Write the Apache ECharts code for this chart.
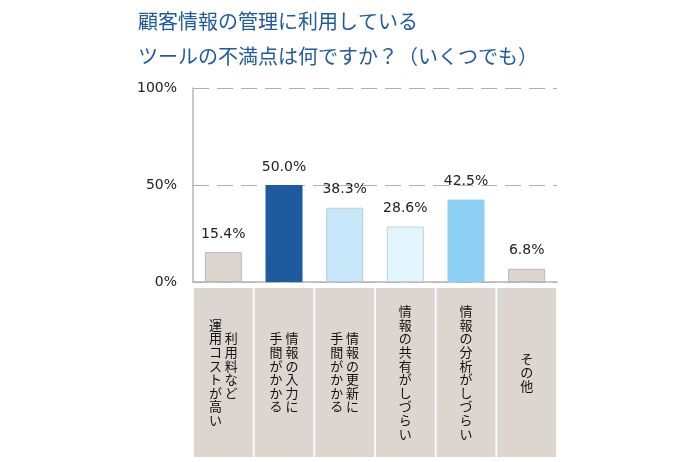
<!DOCTYPE html>
<html>
<head>
<meta charset="utf-8">
<script src="https://cdn.jsdelivr.net/npm/echarts@6/dist/echarts.min.js"></script>
<style>
  html, body { margin: 0; padding: 0; background: #fff; }
  #chart { width: 700px; height: 462px; }
</style>
</head>
<body>
<div id="chart"></div>
<script>
// データ
var titleLines = ['顧客情報の管理に利用している', 'ツールの不満点は何ですか？（いくつでも）'];
// 縦書き：最初の列が右側
var categories = [
    ['利用料など', '運用コストが高い'],
    ['情報の入力に', '手間がかかる'],
    ['情報の更新に', '手間がかかる'],
    ['情報の共有がしづらい'],
    ['情報の分析がしづらい'],
    ['その他']
];
var values = [15.4, 50.0, 38.3, 28.6, 42.5, 6.8];
var yTicks = [0, 50, 100];

var barColors = ['#ddd6d0', '#1f5a9e', '#c7e8fa', '#e2f4fc', '#8dd0f3', '#ddd6d0'];
var barBorders = ['#bdb8b4', '#1f5a9e', '#b9cbd5', '#c3d2d9', '#8dd0f3', '#bdb8b4'];

var LH = 13.6;       // 縦書きの1文字の高さ
var BOX_H = 169;     // 下のラベル枠の高さ

// 縦書きの行を作る（右の列から読む）
function verticalText(cols) {
    var n = 0;
    cols.forEach(function (c) { n = Math.max(n, c.length); });
    var offs = cols.map(function (c) { return Math.floor((n - c.length) / 2); });
    var rows = [];
    for (var i = 0; i < n; i++) {
        var parts = [];
        for (var k = cols.length - 1; k >= 0; k--) {
            var ch = cols[k].charAt(i - offs[k]);
            parts.push(ch || '　');
        }
        rows.push(parts.join(' '));
    }
    return rows;
}

var catData = categories.map(function (cols, i) {
    var rows = verticalText(cols);
    var pad = (BOX_H - rows.length * LH) / 2;
    return {
        value: 'c' + i,
        textStyle: { padding: [pad, 0, pad, 0] }
    };
});
var catText = {};
categories.forEach(function (cols, i) { catText['c' + i] = verticalText(cols).join('\n'); });

var barData = values.map(function (v, i) {
    return {
        value: v,
        itemStyle: { color: barColors[i], borderColor: barBorders[i], borderWidth: 1 }
    };
});

var chart = echarts.init(document.getElementById('chart'));
var option = {
    animation: false,
    title: {
        text: titleLines.join('\n'),
        left: 138,
        top: 4,
        padding: 0,
        textStyle: {
            color: '#1f5a9e',
            fontSize: 20,
            fontWeight: 'normal',
            lineHeight: 35,
            fontFamily: 'Noto Sans CJK JP'
        }
    },
    grid: { left: 193, right: 143, top: 88, bottom: 180, containLabel: false },
    xAxis: {
        type: 'category',
        data: catData,
        axisLine: { show: true, lineStyle: { color: '#b5b5b5', width: 1.5 } },
        axisTick: { show: false },
        axisLabel: {
            interval: 0,
            margin: 6,
            formatter: function (v) { return catText[v]; },
            width: 59,
            backgroundColor: '#ddd6d0',
            color: '#111',
            fontSize: 13,
            lineHeight: LH,
            fontFamily: 'Noto Sans CJK JP',
            align: 'center',
            verticalAlign: 'top'
        }
    },
    yAxis: {
        type: 'value',
        min: 0,
        max: 100,
        interval: 50,
        axisLine: { show: true, lineStyle: { color: '#b5b5b5', width: 1.5 } },
        axisTick: { show: false },
        axisLabel: {
            margin: 16,
            color: '#222',
            fontSize: 14,
            fontFamily: 'DejaVu Sans',
            formatter: function (v) { return yTicks.indexOf(v) >= 0 ? v + '%' : ''; }
        },
        splitLine: { lineStyle: { color: '#b0b0b0', width: 1.2, type: [16, 8] } }
    },
    series: [{
        type: 'bar',
        data: barData,
        barWidth: 37,
        label: {
            show: true,
            position: 'top',
            distance: 11,
            color: '#222',
            fontSize: 14,
            fontFamily: 'DejaVu Sans',
            formatter: function (p) { return p.value.toFixed(1) + '%'; }
        }
    }]
};
chart.setOption(option);
</script>
</body>
</html>
